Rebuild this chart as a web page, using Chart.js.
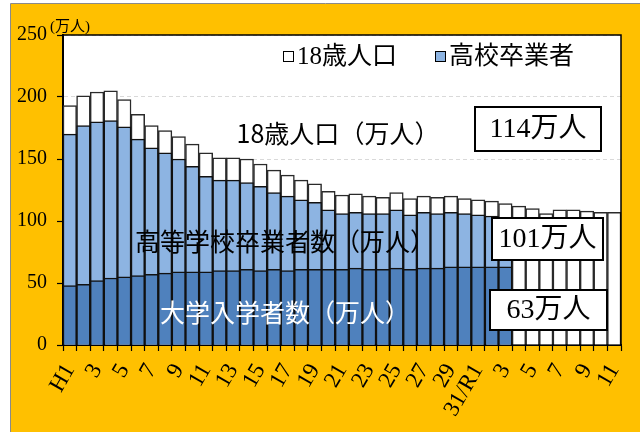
<!DOCTYPE html>
<html>
<head>
<meta charset="utf-8">
<script src="https://cdn.jsdelivr.net/npm/chart.js@4.4.1/dist/chart.umd.min.js"></script>
<style>
  html, body { margin: 0; padding: 0; background: #ffffff; }
  #c { display: block; }
</style>
</head>
<body>
<canvas id="c" width="640" height="432"></canvas>
<script>
// ---- data ----
const categories = ['H1','H2','H3','H4','H5','H6','H7','H8','H9','H10','H11','H12','H13','H14','H15','H16','H17','H18','H19','H20','H21','H22','H23','H24','H25','H26','H27','H28','H29','H30','H31/R1','R2','R3','R4','R5','R6','R7','R8','R9','R10','R11'];
const tickLabels = ['H1','','3','','5','','7','','9','','11','','13','','15','','17','','19','','21','','23','','25','','27','','29','','31/R1','','3','','5','','7','','9','','11'];
const population18 = [193,201,204,205,198,186,177,173,168,162,155,151,151,150,146,141,137,133,130,124,121,122,120,119,123,118,120,119,120,118,117,116,114,112,110,106,109,109,108,107,107];
const highSchoolGrads = [170,177,180,181,176,166,159,155,150,144,136,133,133,131,128,123,120,117,115,109,106,107,106,106,109,105,107,106,107,106,105,104,101,null,null,null,null,null,null,null,null];
const univEntrants = [48,49,52,54,55,56,57,58,59,59,59,60,60,61,60,61,60,61,61,61,61,62,61,61,62,61,62,62,63,63,63,63,63,null,null,null,null,null,null,null,null];
const yTicks = [0,50,100,150,200,250];
const legendLabels = ['18歳人口','高校卒業者'];
const noteLabels = ['18歳人口（万人）','高等学校卒業者数（万人）','大学入学者数（万人）'];
const boxLabels = ['114万人','101万人','63万人'];
const unitLabel = '(万人)';

const SERIF = '"Liberation Serif", "DejaVu Serif", serif';
const JP = '"Noto Sans CJK JP", sans-serif';
const MIX = '"Liberation Serif", "Noto Sans CJK JP", serif';

const decor = {
  id: 'decor',
  beforeDraw(chart) {
    const ctx = chart.ctx, a = chart.chartArea;
    ctx.save();
    ctx.fillStyle = '#ffffff';
    ctx.fillRect(0, 0, chart.width, chart.height);
    ctx.fillStyle = '#FFC000';
    ctx.fillRect(11, 4, chart.width - 11, chart.height - 4);
    ctx.strokeStyle = '#8a8a8a';
    ctx.lineWidth = 1;
    ctx.beginPath();
    ctx.moveTo(10.5, chart.height); ctx.lineTo(10.5, 3.5); ctx.lineTo(chart.width, 3.5);
    ctx.stroke();
    ctx.fillStyle = '#ffffff';
    ctx.fillRect(a.left, a.top, a.right - a.left, a.bottom - a.top);
    ctx.restore();
  },
  afterDraw(chart) {
    const ctx = chart.ctx, a = chart.chartArea;
    ctx.save();
    // frame top & right
    ctx.strokeStyle = '#000';
    ctx.lineWidth = 1.5;
    ctx.beginPath();
    ctx.moveTo(a.left, a.top); ctx.lineTo(a.right, a.top); ctx.lineTo(a.right, a.bottom);
    ctx.stroke();

    // unit label
    ctx.fillStyle = '#000';
    ctx.font = '15px ' + MIX;
    ctx.textAlign = 'left';
    ctx.textBaseline = 'alphabetic';
    ctx.fillText(unitLabel, 50, 31);

    // legend
    const ds = chart.data.datasets;
    const legendItems = [
      { text: legendLabels[0], color: ds[2].backgroundColor, x: 283 },
      { text: legendLabels[1], color: ds[1].backgroundColor, x: 435 }
    ];
    ctx.font = '25px ' + MIX;
    ctx.textBaseline = 'middle';
    legendItems.forEach(it => {
      ctx.fillStyle = it.color;
      ctx.fillRect(it.x, 51, 11, 11);
      ctx.strokeStyle = '#000';
      ctx.lineWidth = 1;
      ctx.strokeRect(it.x + 0.5, 51.5, 10, 10);
      ctx.fillStyle = '#000';
      ctx.fillText(it.text, it.x + 14, 57);
    });

    // notes
    ctx.textAlign = 'center';
    ctx.font = '25px ' + JP;
    ctx.fillStyle = '#000';
    ctx.fillText(noteLabels[0], 338, 133);
    ctx.fillText(noteLabels[1], 285, 241);
    ctx.fillStyle = '#fff';
    ctx.fillText(noteLabels[2], 285, 312);

    // boxes
    const boxes = [
      { t: boxLabels[0], x: 475, y: 107, w: 126, h: 44 },
      { t: boxLabels[1], x: 492, y: 218, w: 111, h: 42 },
      { t: boxLabels[2], x: 490, y: 290, w: 117, h: 40 }
    ];
    boxes.forEach(b => {
      ctx.fillStyle = '#fff';
      ctx.fillRect(b.x, b.y, b.w, b.h);
      ctx.strokeStyle = '#000';
      ctx.lineWidth = 2;
      ctx.strokeRect(b.x, b.y, b.w, b.h);
      ctx.fillStyle = '#000';
      ctx.font = '28px ' + MIX;
      ctx.textAlign = 'center';
      ctx.fillText(b.t, b.x + b.w / 2, b.y + b.h / 2 + 1);
    });
    ctx.restore();
  }
};

const barBorder = '#111111';
new Chart(document.getElementById('c'), {
  type: 'bar',
  data: {
    labels: categories,
    datasets: [
      { label: '大学入学者', data: univEntrants, backgroundColor: '#4F81BD', borderColor: barBorder, borderWidth: 1.5 },
      { label: '高校卒業者', data: highSchoolGrads, backgroundColor: '#8DB4E2', borderColor: barBorder, borderWidth: 1.5 },
      { label: '18歳人口', data: population18, backgroundColor: '#FFFFFF', borderColor: '#2a2a2a', borderWidth: 1.5 }
    ]
  },
  options: {
    responsive: false,
    animation: false,
    devicePixelRatio: 1,
    layout: { padding: { left: 0, right: 19, top: 35, bottom: 0 } },
    datasets: { bar: { barPercentage: 1, categoryPercentage: 1 } },
    plugins: {
      legend: { display: false },
      tooltip: { enabled: false }
    },
    scales: {
      x: {
        stacked: true,
        afterFit(s) { s.height = 87; s.paddingLeft = 0; s.paddingRight = 0; },
        grid: { display: true, drawOnChartArea: false, offset: true, tickLength: 6, tickColor: '#000', tickWidth: 1.2 },
        border: { display: true, color: '#000', width: 2 },
        ticks: {
          autoSkip: false,
          maxRotation: 60, minRotation: 60,
          padding: 8,
          color: '#000',
          font: { family: SERIF, size: 23 },
          callback: (v, i) => tickLabels[i]
        }
      },
      y: {
        stacked: false,
        min: 0, max: 250,
        afterFit(s) { s.width = 63; s.paddingTop = 0; s.paddingBottom = 0; },
        afterBuildTicks(s) { s.ticks = yTicks.map(v => ({ value: v })); },
        grid: { color: '#d9d9d9', lineWidth: 1, tickLength: 6, tickColor: '#000', tickWidth: 1.2 },
        border: { display: true, color: '#000', width: 2, dash: [4, 3] },
        ticks: {
          padding: 10,
          color: '#000',
          font: { family: SERIF, size: 20 }
        }
      }
    }
  },
  plugins: [decor]
});
</script>
</body>
</html>
